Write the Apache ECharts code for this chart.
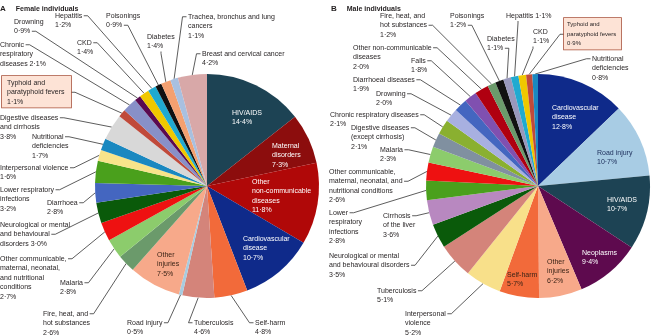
<!DOCTYPE html>
<html><head><meta charset="utf-8">
<script src="https://cdn.jsdelivr.net/npm/echarts@6/dist/echarts.min.js"></script>
<style>html,body{margin:0;padding:0;background:#fff}#c{width:653px;height:336px}</style>
</head><body><div id="c"></div>
<script>
// ---------- DATA ----------
const femaleCauses = ['HIV/AIDS','Maternal disorders','Other non-communicable diseases','Cardiovascular disease','Self-harm','Tuberculosis','Road injury','Other injuries','Fire, heat, and hot substances','Malaria','Other communicable, maternal, neonatal, and nutritional conditions','Neurological or mental and behavioural disorders','Diarrhoea','Lower respiratory infections','Interpersonal violence','Nutritional deficiencies','Digestive diseases and cirrhosis','Typhoid and paratyphoid fevers','Chronic respiratory diseases','Drowning','CKD','Hepatitis','Poisonings','Diabetes','Trachea, bronchus and lung cancers','Breast and cervical cancer'];
const femaleValues = [14.4,7.3,11.8,10.7,4.8,4.6,0.5,7.5,2.6,2.8,2.7,3.0,2.8,3.2,1.6,1.7,3.8,1.1,2.1,0.9,1.4,1.2,0.9,1.4,1.1,4.2];
const femaleColors = ['#1d4354','#8c0d0d','#b00808','#0f2a8a','#f26a3a','#d4847a','#a8cce0','#f7a98a','#6b9a6b','#8ccc6c','#ee1111','#0a5a0a','#4466c0','#4aa01c','#f8e48a','#1a88c0','#d8d8d8','#c04a3a','#8890c8','#5a0a50','#f0c800','#20aad0','#111111','#f4a070','#a8c0e0','#d8a8a8'];
const femaleLabelText = ['HIV/AIDS\n{v}','Maternal\ndisorders\n{v}','Other\nnon-communicable\ndiseases\n{v}','Cardiovascular\ndisease\n{v}','Self-harm\n{v}','Tuberculosis\n{v}','Road injury\n{v}','Other\ninjuries\n{v}','Fire, heat, and\nhot substances\n{v}','Malaria\n{v}','Other communicable,\nmaternal, neonatal,\nand nutritional\nconditions\n{v}','Neurological or mental\nand behavioural\ndisorders {v}','Diarrhoea\n{v}','Lower respiratory\ninfections\n{v}','Interpersonal violence\n{v}','Nutritional\ndeficiencies\n{v}','Digestive diseases\nand cirrhosis\n{v}','Typhoid and\nparatyphoid fevers\n{v}','Chronic\nrespiratory\ndiseases {v}','Drowning\n{v}','CKD\n{v}','Hepatitis\n{v}','Poisonings\n{v}','Diabetes\n{v}','Trachea, bronchus and lung\ncancers\n{v}','Breast and cervical cancer\n{v}'];

const maleCauses = ['Cardiovascular disease','Road injury','HIV/AIDS','Neoplasms','Other injuries','Self-harm','Interpersonal violence','Tuberculosis','Neurological or mental and behavioural disorders','Cirrhosis of the liver','Lower respiratory infections','Other communicable, maternal, neonatal, and nutritional conditions','Malaria','Digestive diseases (except cirrhosis)','Chronic respiratory diseases','Drowning','Diarrhoeal diseases','Falls','Other non-communicable diseases','Fire, heat, and hot substances','Poisonings','Diabetes','Hepatitis','CKD','Typhoid and paratyphoid fevers','Nutritional deficiencies'];
const maleValues = [12.8,10.7,10.7,9.4,6.2,5.7,5.2,5.1,3.5,3.6,2.8,2.6,2.3,2.1,2.1,2.0,1.9,1.8,2.0,1.2,1.2,1.1,1.1,1.1,0.9,0.8];
const maleColors = ['#0f2a8a','#a8cce4','#1d4354','#5e0a4e','#f7a98a','#f26a3a','#f8e08a','#d4847a','#0a5a0a','#b888c0','#4aa01c','#ee1111','#8ccc6c','#8090a0','#8ab030','#a8b0e0','#4466c0','#8050b0','#b00010','#6b9a6b','#111111','#9898bc','#20aad0','#f0c800','#c04a3a','#1a88c0'];
const maleLabelText = ['Cardiovascular\ndisease\n{v}','Road injury\n{v}','HIV/AIDS\n{v}','Neoplasms\n{v}','Other\ninjuries\n{v}','Self-harm\n{v}','Interpersonal\nviolence\n{v}','Tuberculosis\n{v}','Neurological or mental\nand behavioural disorders\n{v}','Cirrhosis\nof the liver\n{v}','Lower\nrespiratory\ninfections\n{v}','Other communicable,\nmaternal, neonatal, and\nnutritional conditions\n{v}','Malaria\n{v}','Digestive diseases\n(except cirrhosis)\n{v}','Chronic respiratory diseases\n{v}','Drowning\n{v}','Diarrhoeal diseases\n{v}','Falls\n{v}','Other non-communicable\ndiseases\n{v}','Fire, heat, and\nhot substances\n{v}','Poisonings\n{v}','Diabetes\n{v}','Hepatitis {v}','CKD\n{v}','Typhoid and\nparatyphoid fevers\n{v}','Nutritional\ndeficiencies\n{v}'];

// ---------- LAYOUT (label placement only) ----------
// [x, top, mode, lineIndex/offset]
const femaleLabelLayout = [
  [232,108,'in'],[272,141,'in'],[252,177,'in'],[243,234,'in'],
  [255,318,'l',0],[194,318,'l',0],[127,318,'r',0],[157,250,'in'],
  [43,309,'r',0],[60,278,'r',0],[0,254,'r',0],[0,220,'r',1],
  [47,198,'r',0],[0,185,'r',0],[0,163,'r',0],[32,132,'r',0],
  [0,113,'r',0],[2,76,'box-r',1],[0,40,'r',0],[14,17,'r',1],
  [77,38,'r',0],[55,11,'r',0],[106,11,'r',1],[147,32,'b',14],
  [188,12,'l',0],[202,49,'l',0]
];
const femaleInsideColor = {0:'#ffffff',1:'#ffffff',2:'#ffffff',3:'#ffffff',7:'#3b2417'};
const maleLabelLayout = [
  [552,103,'in'],[597,148,'in'],[607,195,'in'],[582,248,'in'],[547,257,'in'],[507,270,'in'],
  [405,309,'r',0],[377,286,'r',0],[329,251,'r',1],[383,211,'r',0],[329,208,'r',0],
  [329,167,'r',1],[380,145,'r',0],[351,123,'r',0],[330,110,'r',0],[376,89,'r',0],
  [353,75,'r',0],[411,56,'r',0],[353,43,'r',0],[380,11,'r',1],[450,11,'r',1],
  [487,34,'r',1],[506,11,'b',12],[533,27,'b',0],[564,18,'box-l',1],[592,54,'l',0]
];
const maleInsideColor = {0:'#ffffff',1:'#1c2d5a',2:'#ffffff',3:'#ffffff',4:'#3b2417',5:'#3b2417'};

const FONT = 'Liberation Sans';
const FS = 7, LH = 9.5, R = 112;
const cv = document.createElement('canvas').getContext('2d');
function tw(s, fs){ cv.font = (fs||FS) + 'px "' + FONT + '"'; return cv.measureText(s).width; }
function pct(v){ return v.toFixed(1).replace('.', '\u00b7') + '%'; }
function lines(t, v){ return t.replace('{v}', pct(v)).split('\n'); }

function buildSeries(center, causes, values, colors, texts, layout, inColors, boxFS, boxPad){
  const data = causes.map((n, i) => {
    const L = layout[i], mode = L[2];
    const inside = mode === 'in', box = mode.indexOf('box') === 0;
    const fs = box ? boxFS : FS;
    const ls = lines(texts[i], values[i]);
    const maxW = Math.max.apply(null, ls.map(s => tw(s, fs)));
    const label = {position: inside ? 'inside' : 'outside', width: Math.ceil(maxW) + 3, overflow: 'none',
      color: inside ? inColors[i] : '#231f20', fontSize: fs};
    if (box) Object.assign(label, {backgroundColor:'#fde3d6', borderColor:'#a8503a', borderWidth:0.8,
      padding: boxPad, width: Math.ceil(maxW) + 1});
    return {name: n, value: values[i], itemStyle: {color: colors[i]}, label: label, labelLine: {show: !inside}};
  });
  return {
    type: 'pie', center: center, radius: R, startAngle: 90, clockwise: true,
    avoidLabelOverlap: false, left: 0, top: 0, width: 653, height: 336,
    silent: true, animation: false,
    label: {show: true, fontFamily: FONT, fontSize: FS, lineHeight: LH, align: 'left', overflow: 'none',
      formatter: p => lines(texts[p.dataIndex], p.value).join('\n')},
    labelLine: {length: 5, length2: 5, lineStyle: {color: '#333333', width: 0.8}},
    data: data,
    labelLayout: function (p) {
      const i = p.dataIndex, L = layout[i];
      const x = L[0], top = L[1], mode = L[2], k = L[3];
      const res = {x: x, y: top, align: 'left', verticalAlign: 'top'};
      if (mode === 'in') return res;
      const pts = p.labelLinePoints;
      if (!pts) return res;
      const e = pts[0];
      const ls = lines(texts[i], values[i]);
      let a, s;
      if (mode === 'r') {
        const yc = top + k * LH + LH / 2, xe = x + tw(ls[k]) + 1.5;
        a = [xe, yc]; s = [xe + 4, yc];
      } else if (mode === 'l') {
        const yc = top + k * LH + LH / 2;
        a = [x - 1.5, yc]; s = [x - 5.5, yc];
      } else if (mode === 'b') {
        const yb = top + ls.length * LH + 0.5;
        a = [x + k, yb]; s = [x + k, yb + 2];
      } else {
        const maxW = Math.ceil(Math.max.apply(null, ls.map(t => tw(t, boxFS)))) + 1;
        const bw = maxW + boxPad[1] + boxPad[3];
        const yc = top + boxPad[0] + k * LH + LH / 2;
        if (mode === 'box-r') { a = [x + bw, yc]; s = [x + bw + 4, yc]; }
        else { a = [x, yc]; s = [x - 4, yc]; }
      }
      return Object.assign(res, {labelLinePoints: [e, s, a]});
    }
  };
}

const chart = echarts.init(document.getElementById('c'), null, {renderer: 'canvas'});
chart.setOption({
  backgroundColor: '#ffffff',
  title: [
    {left: 0, top: 0, padding: 0, text: '{a|A}  {b|Female individuals}',
     textStyle: {rich: {a: {fontSize: 8, fontWeight: 'bold', fontFamily: FONT, color: '#231f20'}, b: {fontSize: 7, fontWeight: 'bold', fontFamily: FONT, color: '#231f20'}}}},
    {left: 331, top: 0, padding: 0, text: '{a|B}  {b|Male individuals}',
     textStyle: {rich: {a: {fontSize: 8, fontWeight: 'bold', fontFamily: FONT, color: '#231f20'}, b: {fontSize: 7, fontWeight: 'bold', fontFamily: FONT, color: '#231f20'}}}}
  ],
  series: [
    buildSeries([207, 186], femaleCauses, femaleValues, femaleColors, femaleLabelText, femaleLabelLayout, femaleInsideColor, 7, [2,5,1,5]),
    buildSeries([538, 186], maleCauses, maleValues, maleColors, maleLabelText, maleLabelLayout, maleInsideColor, 6, [2,3,1,3])
  ]
});
</script></body></html>
